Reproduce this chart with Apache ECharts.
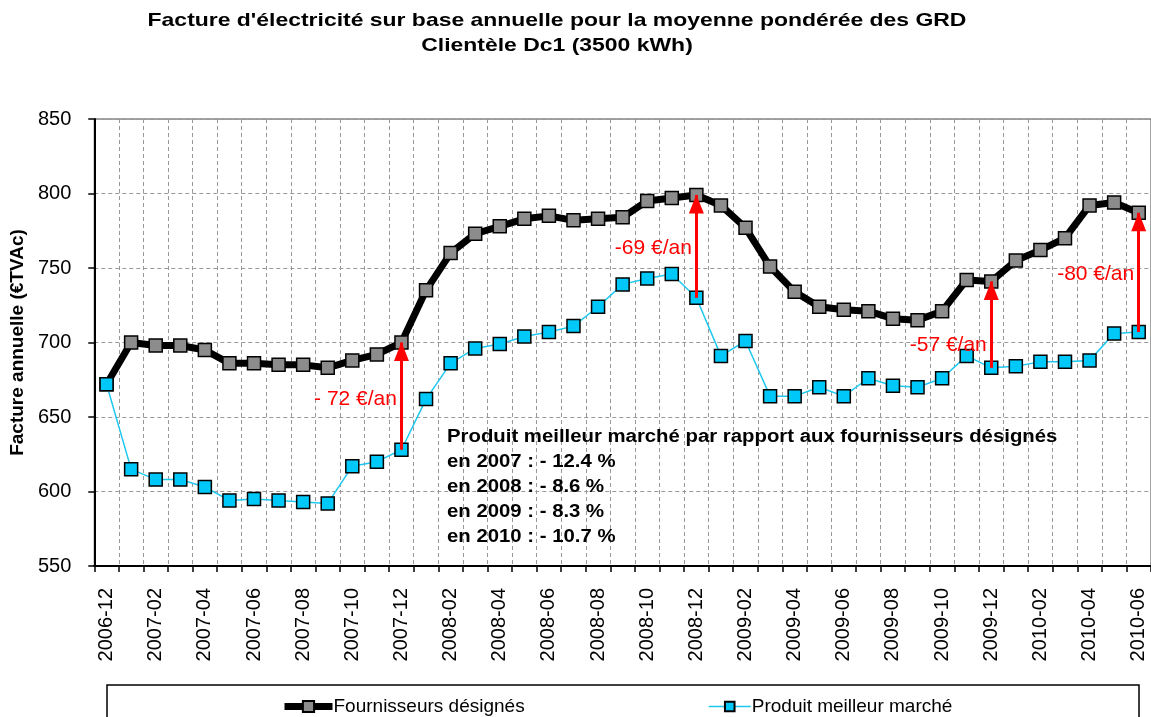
<!DOCTYPE html>
<html>
<head>
<meta charset="utf-8">
<script src="https://cdn.jsdelivr.net/npm/echarts@6/dist/echarts.min.js"></script>
<style>
  html, body { margin: 0; padding: 0; background: #fff; }
  #main { width: 1151px; height: 717px; }
</style>
</head>
<body>
<div id="main"></div>
<script>
// mois (axe x)
var months = ['2006-12','2007-01','2007-02','2007-03','2007-04','2007-05','2007-06','2007-07','2007-08','2007-09','2007-10','2007-11',
  '2007-12','2008-01','2008-02','2008-03','2008-04','2008-05','2008-06','2008-07','2008-08','2008-09','2008-10','2008-11',
  '2008-12','2009-01','2009-02','2009-03','2009-04','2009-05','2009-06','2009-07','2009-08','2009-09','2009-10','2009-11',
  '2009-12','2010-01','2010-02','2010-03','2010-04','2010-05','2010-06'];

// facture annuelle (€TVAc)
var fournisseurs = [672,700,698,698,695,686,686,685,685,683,688,692,700,735,760,773,778,783,785,782,783,784,795,797,
  799,792,777,751,734,724,722,721,716,715,721,742,741,755,762,770,792,794,787];
var meilleurMarche = [672,615,608,608,603,594,595,594,593,592,617,620,628,662,686,696,699,704,707,711,724,739,743,746,
  730,691,701,664,664,670,664,676,671,670,676,691,683,684,687,687,688,706,707];

// flèches rouges
var arrowMonths = ['2007-12','2008-12','2009-12','2010-06'];
var arrowLabels = ['- 72 €/an','-69 €/an','-57 €/an','-80 €/an'];
var arrowLabelY = [662, 763, 698, 746];

var titleLines = [
  "Facture d'électricité sur base annuelle pour la moyenne pondérée des GRD",
  'Clientèle Dc1 (3500 kWh)'
];
var noteLines = [
  'Produit meilleur marché par rapport aux fournisseurs désignés',
  'en 2007 : - 12.4 %',
  'en 2008 : - 8.6 %',
  'en 2009 : - 8.3 %',
  'en 2010 : - 10.7 %'
];

var FONT = 'Liberation Sans, Arial, sans-serif';

var myChart = echarts.init(document.getElementById('main'), null, { renderer: 'canvas' });

// construire les flèches
var arrowLines = [];
var arrowTexts = [];
for (var i = 0; i < arrowMonths.length; i++) {
  var k = months.indexOf(arrowMonths[i]);
  arrowLines.push([
    { coord: [arrowMonths[i], meilleurMarche[k]] },
    { coord: [arrowMonths[i], fournisseurs[k]] }
  ]);
  arrowTexts.push({ coord: [arrowMonths[i], arrowLabelY[i]], name: arrowLabels[i] });
}

myChart.setOption({
  animation: false,
  textStyle: { fontFamily: FONT },
  grid: {
    left: 94, top: 119, width: 1060, height: 447,
    show: true, borderColor: '#444', borderWidth: 1, backgroundColor: 'transparent'
  },
  legend: [
    {
      data: ['Fournisseurs désignés'],
      left: 276, top: 692,
      itemWidth: 48, itemHeight: 14, itemGap: 4,
      lineStyle: { width: 7 },
      textStyle: { fontSize: 19, color: '#000', fontFamily: FONT, padding: [0, 0, 0, -4] }
    },
    {
      data: ['Produit meilleur marché'],
      left: 703, top: 692,
      itemWidth: 42, itemHeight: 12,
      lineStyle: { width: 1.5 },
      textStyle: { fontSize: 19, color: '#000', fontFamily: FONT, padding: [0, 0, 0, -4] }
    }
  ],
  xAxis: {
    type: 'category',
    data: months,
    boundaryGap: true,
    axisLine: { lineStyle: { color: '#000', width: 2 } },
    axisTick: { show: true, interval: 0, length: 6, lineStyle: { color: '#000', width: 1.5 } },
    axisLabel: { interval: 1, rotate: 90, fontSize: 20, color: '#000', margin: 22 },
    splitLine: { show: true, interval: 0, lineStyle: { color: '#999', type: [4, 3], width: 1 } }
  },
  yAxis: {
    type: 'value',
    min: 550, max: 850, interval: 50,
    name: 'Facture annuelle (€TVAc)',
    nameLocation: 'middle',
    nameGap: 62,
    nameTextStyle: { fontSize: 19, fontWeight: 'bold', color: '#000', fontFamily: FONT },
    axisLine: { show: true, lineStyle: { color: '#000', width: 2 } },
    axisTick: { show: true, length: 6, lineStyle: { color: '#000', width: 1.5 } },
    axisLabel: { fontSize: 20, color: '#000', margin: 23 },
    splitLine: { show: true, lineStyle: { color: '#999', type: [4, 3], width: 1 } }
  },
  graphic: [
    {
      type: 'text',
      x: 557, y: 8,
      scaleX: 1.24,
      style: {
        text: titleLines.join('\n'),
        font: 'bold 18.5px ' + FONT,
        fill: '#000',
        align: 'center',
        verticalAlign: 'top',
        lineHeight: 25
      },
      z: 10
    },
    {
      type: 'rect',
      shape: { x: 107, y: 685, width: 1032, height: 45 },
      style: { fill: 'none', stroke: '#000', lineWidth: 1.5 },
      z: 1
    },
    {
      type: 'text',
      x: 447, y: 425,
      scaleX: 1.13,
      style: {
        text: noteLines.join('\n'),
        font: 'bold 18px ' + FONT,
        fill: '#000',
        align: 'left',
        verticalAlign: 'top',
        lineHeight: 25
      },
      z: 10
    }
  ],
  series: [
    {
      name: 'Fournisseurs désignés',
      type: 'line',
      data: fournisseurs,
      symbol: 'rect',
      symbolSize: 13,
      showAllSymbol: true,
      lineStyle: { color: '#000', width: 7 },
      itemStyle: { color: '#8c8c8c', borderColor: '#000', borderWidth: 1.5 },
      z: 2
    },
    {
      name: 'Produit meilleur marché',
      type: 'line',
      data: meilleurMarche,
      symbol: 'rect',
      symbolSize: 13,
      showAllSymbol: true,
      lineStyle: { color: '#1ec8f0', width: 1.5 },
      itemStyle: { color: '#00c8f8', borderColor: '#000', borderWidth: 1.5 },
      z: 3,
      markLine: {
        silent: true,
        symbol: ['none', 'triangle'],
        symbolSize: [15, 19],
        symbolOffset: [[0, 0], [0, 9]],
        lineStyle: { color: '#ff0000', width: 3, type: 'solid' },
        label: { show: false },
        data: arrowLines,
        z: 5
      },
      markPoint: {
        silent: true,
        symbol: 'circle',
        symbolSize: 1,
        itemStyle: { color: 'transparent' },
        label: {
          show: true,
          position: 'left',
          distance: 4,
          formatter: '{b}',
          color: '#ff0000',
          fontSize: 21,
          fontFamily: FONT
        },
        data: arrowTexts
      }
    }
  ]
});
</script>
</body>
</html>
